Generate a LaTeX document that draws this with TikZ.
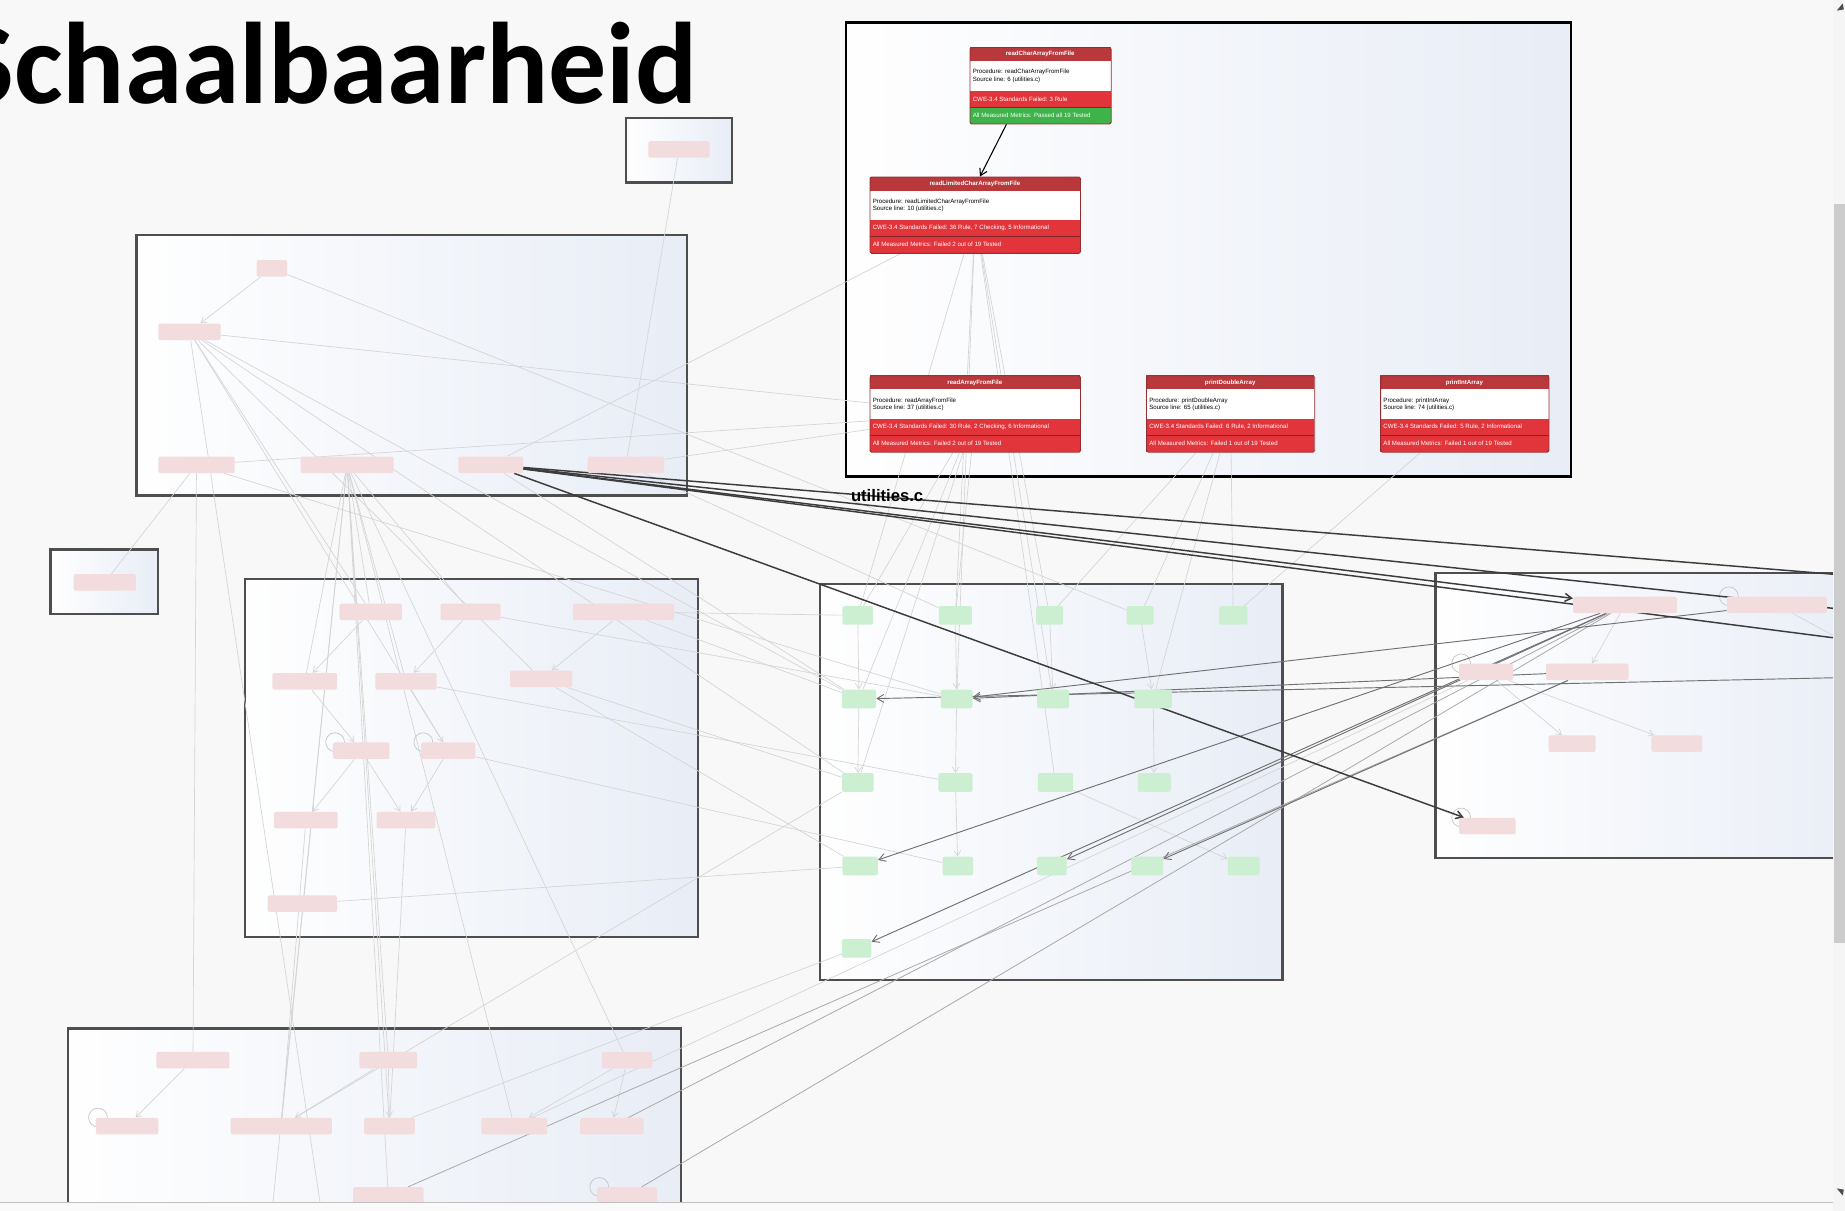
\documentclass[tikz,border=0pt]{standalone}
\usepackage{fontspec}
\setmainfont{Liberation Sans}
\newfontfamily\carlito{Carlito}
\usetikzlibrary{arrows.meta,calc}
\pgfdeclarelayer{bg}
\pgfdeclarelayer{edges}
\pgfsetlayers{bg,edges,main}
\definecolor{bgc}{HTML}{F8F8F8}
\definecolor{pinkf}{HTML}{F3DCDD}
\definecolor{greenf}{HTML}{CDEFD1}
\definecolor{hdrred}{HTML}{B8383B}
\definecolor{cwered}{HTML}{E2353B}
\definecolor{okgreen}{HTML}{3DB34A}
\definecolor{boxborder}{HTML}{4E4E4E}
\definecolor{shadeR}{HTML}{E8EDF6}
\definecolor{edlight}{HTML}{D4D4D4}
\definecolor{edloop}{HTML}{C4C4C4}
\definecolor{edmid}{HTML}{A9A9A9}
\definecolor{eddark}{HTML}{707070}
\definecolor{edblk}{HTML}{3C3C3C}
\tikzset{
  pk/.style={fill=pinkf, rounded corners=1.5pt, minimum height=12.4pt, minimum width=#1*0.8825pt, inner sep=0pt},
  gn/.style={fill=greenf, rounded corners=1.5pt, minimum height=14pt, minimum width=#1*0.8825pt, inner sep=0pt},
  ibox/.style={draw=hdrred!80!black, line width=0.6pt, rounded corners=1.2pt, minimum height=65*0.8825pt, inner sep=0pt},
  ititle/.style={font=\fontsize{4.6}{5.6}\selectfont\bfseries, text=white, inner sep=0pt},
  itext/.style={font=\fontsize{4.6}{5.6}\selectfont, text=black, align=left, inner sep=0pt},
  iwtext/.style={font=\fontsize{4.6}{5.6}\selectfont, text=white, inner sep=0pt},
  sepline/.style={draw=hdrred!70!black, line width=0.4pt},
  cshade/.style={left color=white!97!shadeR, right color=shadeR},
  cborder/.style={draw=boxborder, line width=1.7pt},
  ed/.style={draw=edlight, line width=0.5pt},
  eloop/.style={draw=edloop, line width=0.5pt},
  ea/.style={ed, -{Straight Barb[length=4pt,width=5pt]}},
  edm/.style={draw=edmid, line width=0.6pt},
  edd/.style={draw=eddark, line width=0.7pt, -{Straight Barb[length=5pt,width=6pt]}},
  edk/.style={draw=edblk, line width=1.1pt},
  eblack/.style={draw=black, line width=0.8pt, -{Straight Barb[length=5pt,width=6pt]}},
}
\def\mcol{cwered}
\newcommand\infobox[9]{%
 \fill[hdrred] (#2,#3) rectangle ++(#4,12);
 \fill[white] (#2,#3+12) rectangle ++(#4,25);
 \fill[cwered] (#2,#3+37) rectangle ++(#4,14);
 \fill[\mcol] (#2,#3+51) rectangle ++(#4,14);
 \draw[sepline] (#2,#3+51) -- ++(#4,0);
 \node[ititle] (#1t) at (#2+#4/2,#3+6) {#5};
 \node[itext,anchor=west] (#1p) at (#2+2.5,#3+24.5) {#6\\#7};
 \node[iwtext,anchor=west] (#1c) at (#2+2.5,#3+44) {#8};
 \node[iwtext,anchor=west] (#1m) at (#2+2.5,#3+58) {#9};
 \node[ibox,minimum width=#4*0.8825pt,anchor=north west] (#1) at (#2,#3) {};
}
\begin{document}
\begin{tikzpicture}[x=0.8825pt,y=-0.8825pt]
\useasboundingbox (0,0) rectangle (1568,1029);
% ---------- containers ----------
\begin{pgfonlayer}{bg}
\fill[bgc] (0,0) rectangle (1568,1029);
\shade[cshade] (719,19) rectangle (1335,405);
\draw[draw=black, line width=2pt] (719,19) rectangle (1335,405);
\shade[cshade] (532,100) rectangle (622,155);
\draw[cborder] (532,100) rectangle (622,155);
\shade[cshade] (116,200) rectangle (584,421);
\draw[cborder] (116,200) rectangle (584,421);
\shade[cshade] (43,467) rectangle (134,522);
\draw[cborder] (43,467) rectangle (134,522);
\shade[cshade] (208,492) rectangle (593,796);
\draw[cborder] (208,492) rectangle (593,796);
\shade[cshade] (697,496) rectangle (1090,833);
\draw[cborder] (697,496) rectangle (1090,833);
\shade[cshade] (1220,487) rectangle (1600,729);
\draw[cborder] (1600,487) -- (1220,487) -- (1220,729) -- (1600,729);
\shade[cshade] (58,874) rectangle (579,1040);
\draw[cborder] (58,1040) -- (58,874) -- (579,874) -- (579,1040);
\end{pgfonlayer}
% ---------- title ----------
\node[font=\carlito\bfseries\fontsize{87}{90}\selectfont, anchor=base east, inner sep=0pt] (title) at (593,88) {Schaalbaarheid};
\node[font=\bfseries\fontsize{12.5}{14}\selectfont, anchor=base west, inner sep=0pt] (ulabel) at (723,426) {utilities.c};
% ---------- info boxes ----------
\def\mcol{okgreen}
\infobox{n1}{824}{40}{120}{readCharArrayFromFile}{Procedure: readCharArrayFromFile}{Source line: 6 (utilities.c)}{CWE-3.4 Standards Failed: 3 Rule}{All Measured Metrics: Passed all 19 Tested}
\def\mcol{cwered}
\infobox{n2}{739}{150}{179}{readLimitedCharArrayFromFile}{Procedure: readLimitedCharArrayFromFile}{Source line: 10 (utilities.c)}{CWE-3.4 Standards Failed: 36 Rule, 7 Checking, 5 Informational}{All Measured Metrics: Failed 2 out of 19 Tested}
\infobox{n3}{739}{319}{179}{readArrayFromFile}{Procedure: readArrayFromFile}{Source line: 37 (utilities.c)}{CWE-3.4 Standards Failed: 30 Rule, 2 Checking, 6 Informational}{All Measured Metrics: Failed 2 out of 19 Tested}
\infobox{n4}{974}{319}{143}{printDoubleArray}{Procedure: printDoubleArray}{Source line: 65 (utilities.c)}{CWE-3.4 Standards Failed: 6 Rule, 2 Informational}{All Measured Metrics: Failed 1 out of 19 Tested}
\infobox{n5}{1173}{319}{143}{printIntArray}{Procedure: printIntArray}{Source line: 74 (utilities.c)}{CWE-3.4 Standards Failed: 5 Rule, 2 Informational}{All Measured Metrics: Failed 1 out of 19 Tested}
% ---------- faded nodes ----------
\node[pk=52] (st) at (577,127) {};
\node[pk=26] (lt1) at (231,228) {};
\node[pk=53] (lt2) at (161,282) {};
\node[pk=65] (lt3) at (167,395) {};
\node[pk=79] (lt4) at (295,395) {};
\node[pk=55] (lt5) at (417,395) {};
\node[pk=65] (lt6) at (532,395) {};
\node[pk=53] (sl) at (89,495) {};
\node[pk=53] (m11) at (315,520) {};
\node[pk=51] (m12) at (400,520) {};
\node[pk=86] (m13) at (530,520) {};
\node[pk=55] (m21) at (259,579) {};
\node[pk=52] (m22) at (345,579) {};
\node[pk=53] (m23) at (460,577) {};
\node[pk=48] (m31) at (307,638) {};
\node[pk=46] (m32) at (381,638) {};
\node[pk=54] (m41) at (260,697) {};
\node[pk=50] (m42) at (345,697) {};
\node[pk=59] (m51) at (257,768) {};
\node[gn=26] (g11) at (729,523) {};
\node[gn=28] (g12) at (812,523) {};
\node[gn=23] (g13) at (892,523) {};
\node[gn=23] (g14) at (969,523) {};
\node[gn=24] (g15) at (1048,523) {};
\node[gn=29] (g21) at (730,594) {};
\node[gn=27] (g22) at (813,594) {};
\node[gn=27] (g23) at (895,594) {};
\node[gn=32] (g24) at (980,594) {};
\node[gn=27] (g31) at (729,665) {};
\node[gn=29] (g32) at (812,665) {};
\node[gn=30] (g33) at (897,665) {};
\node[gn=28] (g34) at (981,665) {};
\node[gn=30] (g41) at (731,736) {};
\node[gn=26] (g42) at (814,736) {};
\node[gn=25] (g43) at (894,736) {};
\node[gn=27] (g44) at (975,736) {};
\node[gn=27] (g45) at (1057,736) {};
\node[gn=25] (g51) at (728,806) {};
\node[pk=88] (rA) at (1381,514) {};
\node[pk=85] (rB) at (1510,514) {};
\node[pk=46] (rC) at (1263,571) {};
\node[pk=70] (rD) at (1349,571) {};
\node[pk=40] (rE) at (1336,632) {};
\node[pk=43] (rF) at (1425,632) {};
\node[pk=48] (rG) at (1264,702) {};
\node[pk=62] (b11) at (164,901) {};
\node[pk=49] (b12) at (330,901) {};
\node[pk=43] (b13) at (533,901) {};
\node[pk=53] (b21) at (108,957) {};
\node[pk=86] (b22) at (239,957) {};
\node[pk=43] (b23) at (331,957) {};
\node[pk=56] (b24) at (437,957) {};
\node[pk=54] (b25) at (520,957) {};
\node[pk=60] (b31) at (330,1016) {};
\node[pk=51] (b32) at (533,1016) {};
\coordinate (offR1) at (1558,488);
\coordinate (offR2) at (1558,542);
\coordinate (offR3) at (1558,576);
\coordinate (offR4) at (1558,517);
\coordinate (offR5) at (1558,540);
\coordinate (offB1) at (232,1022);
\coordinate (offB2) at (272,1022);
% ---------- connectors ----------
\begin{pgfonlayer}{edges}
\foreach \a/\b in {n2/g11, n2/g12, n2/g13, n2/g22, n2/g23, n2/g33, n3/g11, n3/g21, n3/g12, n3/g31,
  n4/g13, n4/g14, n4/g24, n5/g15, n4/g15, lt2/n3, lt3/n3, lt6/n3, lt5/n2, lt6/st,
  lt2/m11, lt2/m32, lt2/m23, lt2/g21, lt2/g31, lt1/g14, lt3/sl, lt3/b11, lt3/g22,
  lt4/m11, lt4/m12, lt4/m21, lt4/m22, lt4/b12, lt4/b22, lt4/b23, lt4/b24, lt4/b13, lt4/b31,
  lt4/offB1, lt2/offB2, lt5/g21, lt6/g12, m51/g41, m23/g31, m23/g41, m13/g21, m12/g22, m22/g32,
  m32/g42, m13/g11, b24/rC, b22/g31, b23/g51, rB/offR5, m41/b22, m42/b23}
  \draw[ed] (\a) -- (\b);
\foreach \a/\b in {lt1/lt2, m11/m21, m12/m22, m13/m23, m21/m31, m22/m32, m31/m41, m31/m42, m32/m42,
  b11/b21, b12/b22, b12/b23, b13/b24, b13/b25, rA/rD, rC/rE, rC/rF, g11/g21, g12/g22, g13/g23,
  g14/g24, g21/g31, g22/g32, g24/g34, g32/g42, g33/g45}
  \draw[ea] (\a) -- (\b);
\foreach \n in {m31, m32, rB, rC, rG, b21, b32}
  \draw[eloop] ($(\n.north west)+(2,0)$) circle[radius=8];
\foreach \a/\b in {b31/rD, b32/rA, b25/rA}
  \draw[edm] (\a) -- (\b);
\foreach \a/\b in {rA/g41, rA/g43, rA/g51, rD/g44, rB/g22, rD/g22, offR3/g21}
  \draw[edd] (\a) -- (\b);
\foreach \b in {offR1, offR2, offR4}
  \draw[edk] (lt5) -- (\b);
\draw[edk, -{Straight Barb[length=5pt,width=6pt]}] (lt5) -- (rA);
\draw[edk, -{Straight Barb[length=5pt,width=6pt]}] (lt5) -- (rG);
\end{pgfonlayer}
\draw[eblack] ($(n1.south)+(-29,0)$) -- ($(n2.north)+(4,0)$);
% ---------- window edges ----------
\fill[white!96!black] (1558,0) rectangle (1568,1029);
\fill[white!80!black] (1559,173) rectangle (1568,801);
\fill[black!70] (1561,9) -- (1566,3) -- (1567,8) -- cycle;
\fill[black!70] (1561,1010) -- (1566,1016) -- (1567,1011) -- cycle;
\fill[white!98!black] (0,1022) rectangle (1558,1029);
\draw[black!25, line width=0.6pt] (0,1022) -- (1558,1022);
\end{tikzpicture}
\end{document}
